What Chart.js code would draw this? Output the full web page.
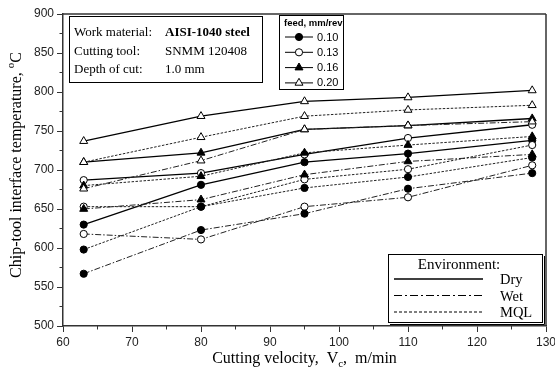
<!DOCTYPE html>
<html>
<head>
<meta charset="utf-8">
<script src="https://cdn.jsdelivr.net/npm/chart.js@4.4.1/dist/chart.umd.min.js"></script>
<style>
  body { margin: 0; background: #fff; }
  canvas { display: block; }
</style>
</head>
<body>
<canvas id="TempChart" width="555" height="372"></canvas>
<script>
// cutting velocity, m/min
var velocity = [63, 80, 95, 110, 128];
var feeds = ['0.10', '0.13', '0.16', '0.20'];
var environments = ['Dry', 'Wet', 'MQL'];

// chip-tool interface temperature, deg C
var dry010 = [630, 681, 710, 721, 738];
var dry013 = [687, 696, 720, 741, 758];
var dry016 = [710, 722, 752, 757, 766];
var dry020 = [737, 769, 788, 793, 802];

var mql010 = [598, 653, 677, 691, 716];
var mql013 = [653, 653, 688, 701, 732];
var mql016 = [680, 692, 722, 732, 743];
var mql020 = [710, 742, 769, 777, 783];

var wet010 = [567, 623, 644, 676, 696];
var wet013 = [618, 611, 653, 665, 706];
var wet016 = [650, 662, 694, 711, 720];
var wet020 = [676, 712, 752, 757, 762];

var serif = '"Liberation Serif", "Times New Roman", serif';
var sans = '"Liberation Sans", Arial, sans-serif';

var markers = {
    '0.10': { pointStyle: 'circle', fill: '#000', radius: 3.6 },
    '0.13': { pointStyle: 'circle', fill: '#fff', radius: 3.6 },
    '0.16': { pointStyle: 'triangle', fill: '#000', radius: 4.6 },
    '0.20': { pointStyle: 'triangle', fill: '#fff', radius: 4.6 }
};
var lineStyles = {
    'Dry': { dash: [], width: 1.3, color: '#000' },
    'Wet': { dash: [6, 2, 1.5, 2], width: 1, color: '#222' },
    'MQL': { dash: [2.5, 1.5], width: 1, color: '#222' }
};

var seriesList = [
    { env: 'Wet', feed: '0.10', values: wet010 },
    { env: 'Wet', feed: '0.13', values: wet013 },
    { env: 'Wet', feed: '0.16', values: wet016 },
    { env: 'Wet', feed: '0.20', values: wet020 },
    { env: 'MQL', feed: '0.10', values: mql010 },
    { env: 'MQL', feed: '0.13', values: mql013 },
    { env: 'MQL', feed: '0.16', values: mql016 },
    { env: 'MQL', feed: '0.20', values: mql020 },
    { env: 'Dry', feed: '0.10', values: dry010 },
    { env: 'Dry', feed: '0.13', values: dry013 },
    { env: 'Dry', feed: '0.16', values: dry016 },
    { env: 'Dry', feed: '0.20', values: dry020 }
];

function BuildDatasets() {
    return seriesList.map(function (s) {
        var m = markers[s.feed], l = lineStyles[s.env];
        return {
            label: s.env + ' ' + s.feed,
            data: velocity.map(function (v, i) { return { x: v, y: s.values[i] }; }),
            borderColor: l.color,
            borderWidth: l.width,
            borderDash: l.dash,
            pointStyle: m.pointStyle,
            pointRadius: m.radius,
            pointBackgroundColor: m.fill,
            pointBorderColor: '#000',
            pointBorderWidth: 1,
            tension: 0,
            fill: false
        };
    });
}

function Line(ctx, x1, y1, x2, y2) {
    ctx.beginPath();
    ctx.moveTo(x1, y1);
    ctx.lineTo(x2, y2);
    ctx.stroke();
}

var decorations = {
    id: 'decorations',
    afterDraw: function (chart) {
        var ctx = chart.ctx, a = chart.chartArea;
        var xs = chart.scales.x, ys = chart.scales.y;
        ctx.save();

        // top and right frame
        ctx.strokeStyle = '#333';
        ctx.lineWidth = 1.5;
        Line(ctx, a.left, a.top, a.right, a.top);
        Line(ctx, a.right, a.top, a.right, a.bottom);

        // minor ticks
        ctx.lineWidth = 1;
        for (var v = 65; v < 130; v += 10) {
            var px = xs.getPixelForValue(v);
            Line(ctx, px, a.bottom, px, a.bottom + 3.5);
        }
        for (var t = 525; t < 900; t += 50) {
            var py = ys.getPixelForValue(t);
            Line(ctx, a.left, py, a.left - 3.5, py);
        }

        // info box
        ctx.fillStyle = '#fff';
        ctx.strokeStyle = '#000';
        ctx.lineWidth = 1;
        ctx.fillRect(69.5, 16.5, 193, 66);
        ctx.strokeRect(69.5, 16.5, 193, 66);
        ctx.fillStyle = '#000';
        ctx.textBaseline = 'alphabetic';
        ctx.textAlign = 'left';
        ctx.font = '13px ' + serif;
        ctx.fillText('Work material:', 74, 36);
        ctx.fillText('Cutting tool:', 74, 55);
        ctx.fillText('Depth of cut:', 74, 73);
        ctx.font = 'bold 13px ' + serif;
        ctx.fillText('AISI-1040 steel', 165, 36);
        ctx.font = '13px ' + serif;
        ctx.fillText('SNMM 120408', 165, 55);
        ctx.fillText('1.0 mm', 165, 73);

        // feed legend
        ctx.fillStyle = '#fff';
        ctx.fillRect(279.5, 15.5, 64, 74);
        ctx.strokeRect(279.5, 15.5, 64, 74);
        ctx.fillStyle = '#000';
        ctx.font = 'bold 9.5px ' + sans;
        ctx.fillText('feed, mm/rev', 284, 26);
        ctx.font = '11px ' + sans;
        ctx.textBaseline = 'middle';
        feeds.forEach(function (f, i) {
            var y = 37 + i * 15.3;
            var m = markers[f];
            ctx.lineWidth = 1;
            ctx.strokeStyle = '#000';
            Line(ctx, 285, y, 313, y);
            ctx.fillStyle = m.fill;
            Chart.helpers.drawPoint(ctx, { pointStyle: m.pointStyle, radius: m.radius, rotation: 0, borderWidth: 1 }, 299, y);
            ctx.fillStyle = '#000';
            ctx.fillText(f, 317, y + 0.5);
        });

        // environment legend
        ctx.fillStyle = '#fff';
        ctx.fillRect(388.5, 254.5, 154, 68);
        ctx.strokeStyle = '#000';
        ctx.lineWidth = 1;
        ctx.strokeRect(388.5, 254.5, 154, 68);
        Line(ctx, 544.5, 256, 544.5, 324.5);
        Line(ctx, 390, 324.5, 544.5, 324.5);
        ctx.fillStyle = '#000';
        ctx.textAlign = 'center';
        ctx.textBaseline = 'alphabetic';
        ctx.font = '15px ' + serif;
        ctx.fillText('Environment:', 459, 269);
        ctx.textAlign = 'left';
        ctx.font = '14.5px ' + serif;
        environments.forEach(function (e, i) {
            var y = 279 + i * 16.5;
            ctx.strokeStyle = '#000';
            ctx.lineWidth = e === 'Dry' ? 1.5 : 1.2;
            ctx.setLineDash(e === 'Wet' ? [8, 3, 2, 3] : (e === 'MQL' ? [3, 2] : []));
            Line(ctx, 394, y, 483, y);
            ctx.setLineDash([]);
            ctx.fillText(e, 500, y + 5);
        });

        // x axis title with subscript
        ctx.fillStyle = '#000';
        ctx.textAlign = 'left';
        ctx.textBaseline = 'alphabetic';
        var big = '16px ' + serif, small = '11px ' + serif;
        var p1 = 'Cutting velocity,  V', p2 = 'c', p3 = ',  m/min';
        ctx.font = big;
        var w1 = ctx.measureText(p1).width, w3 = ctx.measureText(p3).width;
        ctx.font = small;
        var w2 = ctx.measureText(p2).width;
        var x0 = (a.left + a.right) / 2 - (w1 + w2 + w3) / 2;
        var base = 363;
        ctx.font = big;
        ctx.fillText(p1, x0, base);
        ctx.font = small;
        ctx.fillText(p2, x0 + w1, base + 4);
        ctx.font = big;
        ctx.fillText(p3, x0 + w1 + w2, base);

        // y axis title with superscript
        ctx.save();
        ctx.translate(21, 165);
        ctx.rotate(-Math.PI / 2);
        var q1 = 'Chip-tool interface temperature, ', q2 = 'o', q3 = 'C';
        ctx.font = big;
        var v1 = ctx.measureText(q1).width, v3 = ctx.measureText(q3).width;
        ctx.font = small;
        var v2 = ctx.measureText(q2).width;
        var s0 = -(v1 + v2 + v3) / 2;
        ctx.font = big;
        ctx.fillText(q1, s0, 0);
        ctx.font = small;
        ctx.fillText(q2, s0 + v1, -7);
        ctx.font = big;
        ctx.fillText(q3, s0 + v1 + v2, 0);
        ctx.restore();

        ctx.restore();
    }
};

var TempChart = new Chart(document.getElementById('TempChart'), {
    type: 'line',
    data: { datasets: BuildDatasets() },
    options: {
        responsive: false,
        animation: false,
        layout: { padding: { top: 14, right: 9, left: 0, bottom: 0 } },
        plugins: { legend: { display: false }, tooltip: { enabled: false } },
        scales: {
            x: {
                type: 'linear',
                min: 60,
                max: 130,
                ticks: { stepSize: 10, color: '#222', font: { family: sans, size: 12 }, padding: 3, maxRotation: 0 },
                grid: { drawOnChartArea: false, tickLength: 6, color: '#333', lineWidth: 1 },
                border: { color: '#333', width: 1.5 },
                afterFit: function (s) { s.height = 46; s.paddingLeft = 0; s.paddingRight = 0; }
            },
            y: {
                min: 500,
                max: 900,
                ticks: { stepSize: 50, color: '#222', font: { family: sans, size: 12 }, padding: 3 },
                grid: { drawOnChartArea: false, tickLength: 6, color: '#333', lineWidth: 1 },
                border: { color: '#333', width: 1.5 },
                afterFit: function (s) { s.width = 63; s.paddingTop = 0; s.paddingBottom = 0; }
            }
        }
    },
    plugins: [decorations]
});
</script>
</body>
</html>
